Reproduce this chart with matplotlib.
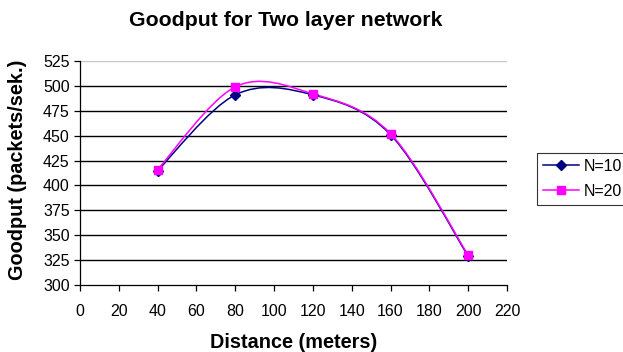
#!/usr/bin/env python3
# -*- coding: utf-8 -*-
"""Goodput for two layer network, Excel-style smoothed lines."""

import matplotlib
matplotlib.use("Agg")
import matplotlib.pyplot as plt
from matplotlib.path import Path
from matplotlib.patches import PathPatch
from matplotlib.lines import Line2D

# ----------------------------
# Data
# ----------------------------
distance = [40, 80, 120, 160, 200]
goodput_n10 = [415, 491, 491, 451, 329]
goodput_n20 = [416, 499, 492, 452, 330]
series_labels = ["N=10", "N=20"]

x_ticks = list(range(0, 221, 20))
y_ticks = list(range(300, 526, 25))

plt.rcParams["font.family"] = ["Liberation Sans", "DejaVu Sans"]


def smooth_path(xs, ys):
    # Excel-like smoothing: cubic bezier, control points from neighbours / 6
    pts = list(zip(xs, ys))
    n = len(pts)
    verts = [pts[0]]
    codes = [Path.MOVETO]
    for i in range(n - 1):
        p0 = pts[i - 1] if i > 0 else pts[i]
        p1 = pts[i]
        p2 = pts[i + 1]
        p3 = pts[i + 2] if i + 2 < n else pts[i + 1]
        c1 = (p1[0] + (p2[0] - p0[0]) / 6.0, p1[1] + (p2[1] - p0[1]) / 6.0)
        c2 = (p2[0] - (p3[0] - p1[0]) / 6.0, p2[1] - (p3[1] - p1[1]) / 6.0)
        verts += [c1, c2, p2]
        codes += [Path.CURVE4] * 3
    return Path(verts, codes)


fig = plt.figure(figsize=(6.23, 3.52), dpi=100)
ax = fig.add_axes([80 / 623, 1 - 285 / 352, 427 / 623, 224 / 352])

# gridlines
for y in y_ticks[1:-1]:
    ax.axhline(y, color="black", lw=1.0, zorder=1)
ax.axhline(y_ticks[-1], color="#c8c8c8", lw=1.0, zorder=1)

styles = [
    dict(color="#000080", marker="D", ms=5),
    dict(color="#ff00ff", marker="s", ms=5.5),
]
for ys, lab, st in zip([goodput_n10, goodput_n20], series_labels, styles):
    ax.add_patch(PathPatch(smooth_path(distance, ys), facecolor="none",
                           edgecolor=st["color"], lw=1.1, zorder=3))
    ax.plot(distance, ys, ls="none", marker=st["marker"], ms=st["ms"],
            color=st["color"], zorder=4, label=lab)

ax.set_xlim(0, 220)
ax.set_ylim(300, 525)
ax.set_xticks(x_ticks)
ax.set_yticks(y_ticks)
ax.tick_params(labelsize=11.5, length=4, width=0.9, direction="out")
ax.tick_params(axis="x", pad=10)
ax.tick_params(axis="y", length=4.5, pad=3)
for side in ["top", "right"]:
    ax.spines[side].set_visible(False)
for side in ["left", "bottom"]:
    ax.spines[side].set_linewidth(0.9)

ax.set_xlabel("Distance (meters)", fontsize=14.3, fontweight="bold", labelpad=10)
ax.set_ylabel("Goodput (packets/sek.)", fontsize=14.3, fontweight="bold")
ax.yaxis.set_label_coords((18 - 80) / 427, (285 - 170) / 224)
ax.yaxis.label.set_va("center")
fig.text(0.459, 1 - 21 / 352, "Goodput for Two layer network", ha="center",
         va="center", fontsize=15.3, fontweight="bold")

handles = [Line2D([], [], color=st["color"], marker=st["marker"], ms=st["ms"],
                  lw=1.1) for st in styles]
leg = fig.legend(handles, series_labels, loc="upper left",
                 bbox_to_anchor=(537 / 623, 1 - 153 / 352), fontsize=11.5,
                 frameon=True, fancybox=False, borderpad=0.35, handlelength=2.3,
                 handletextpad=0.25, labelspacing=0.65, borderaxespad=0)
leg.get_frame().set_edgecolor("black")
leg.get_frame().set_linewidth(0.8)

fig.savefig("out.png", dpi=100)
